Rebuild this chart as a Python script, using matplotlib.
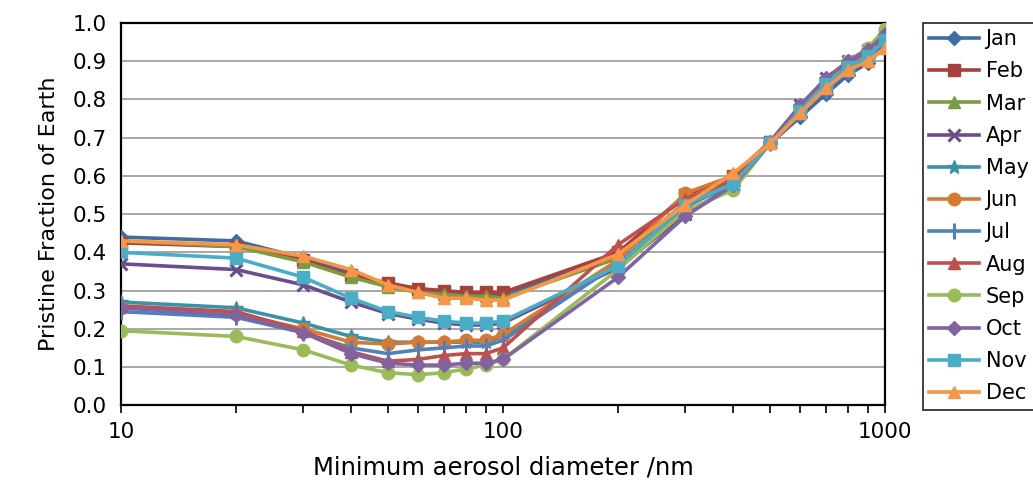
import matplotlib
matplotlib.use("Agg")
import matplotlib.pyplot as plt
from matplotlib.ticker import FixedLocator, NullFormatter

# ── data ─────────────────────────────────────────────
diameter = [10, 20, 30, 40, 50, 60, 70, 80, 90, 100,
            200, 300, 400, 500, 600, 700, 800, 900, 1000]

jan = [0.44, 0.43, 0.385, 0.345, 0.315, 0.30, 0.29, 0.29, 0.285, 0.29,
       0.39, 0.52, 0.585, 0.685, 0.755, 0.815, 0.865, 0.895, 0.94]
feb = [0.425, 0.415, 0.38, 0.34, 0.32, 0.305, 0.30, 0.295, 0.295, 0.295,
       0.40, 0.55, 0.60, 0.69, 0.77, 0.835, 0.88, 0.91, 0.95]
mar = [0.43, 0.415, 0.375, 0.335, 0.31, 0.295, 0.29, 0.285, 0.285, 0.28,
       0.385, 0.53, 0.59, 0.69, 0.775, 0.845, 0.895, 0.925, 0.96]
apr = [0.37, 0.355, 0.315, 0.27, 0.24, 0.225, 0.215, 0.21, 0.21, 0.215,
       0.36, 0.50, 0.575, 0.69, 0.785, 0.855, 0.90, 0.93, 0.965]
may = [0.27, 0.255, 0.215, 0.18, 0.165, 0.165, 0.165, 0.165, 0.165, 0.18,
       0.37, 0.52, 0.58, 0.685, 0.775, 0.845, 0.89, 0.92, 0.96]
jun = [0.255, 0.24, 0.20, 0.165, 0.16, 0.165, 0.165, 0.17, 0.17, 0.185,
       0.38, 0.555, 0.60, 0.69, 0.77, 0.835, 0.88, 0.91, 0.945]
jul = [0.245, 0.23, 0.19, 0.15, 0.135, 0.145, 0.15, 0.155, 0.155, 0.17,
       0.37, 0.52, 0.58, 0.685, 0.765, 0.825, 0.875, 0.905, 0.945]
aug = [0.26, 0.245, 0.195, 0.14, 0.115, 0.12, 0.13, 0.135, 0.135, 0.15,
       0.42, 0.54, 0.59, 0.69, 0.775, 0.845, 0.89, 0.92, 0.96]
sep = [0.195, 0.18, 0.145, 0.105, 0.085, 0.08, 0.085, 0.095, 0.105, 0.12,
       0.355, 0.51, 0.563, 0.685, 0.78, 0.85, 0.90, 0.935, 0.985]
oct_ = [0.255, 0.235, 0.19, 0.135, 0.11, 0.105, 0.105, 0.11, 0.11, 0.12,
        0.335, 0.495, 0.575, 0.685, 0.785, 0.855, 0.90, 0.93, 0.97]
nov = [0.40, 0.385, 0.335, 0.28, 0.245, 0.23, 0.22, 0.215, 0.215, 0.22,
       0.365, 0.525, 0.58, 0.685, 0.77, 0.84, 0.885, 0.915, 0.955]
dec = [0.43, 0.42, 0.39, 0.355, 0.315, 0.295, 0.28, 0.28, 0.275, 0.275,
       0.395, 0.525, 0.607, 0.685, 0.765, 0.83, 0.877, 0.90, 0.935]

months = ["Jan", "Feb", "Mar", "Apr", "May", "Jun",
          "Jul", "Aug", "Sep", "Oct", "Nov", "Dec"]
series = [jan, feb, mar, apr, may, jun, jul, aug, sep, oct_, nov, dec]

# ── styles ───────────────────────────────────────────
colors = ["#3D6DA6", "#A8413D", "#7B9B41", "#6A4D8C", "#3893A9", "#D67A31",
          "#4F81BD", "#C0504D", "#9BBB59", "#8064A2", "#4BACC6", "#F79646"]
markers = ["D", "s", "^", "x", "*", "o", "|", "^", "o", "D", "s", "^"]
msizes = [7, 8, 8, 8, 10, 9, 11, 8, 9, 7, 8, 9]

plt.rcParams["font.family"] = ["DejaVu Sans"]

fig = plt.figure(figsize=(10.33, 4.9), dpi=100)
ax = fig.add_axes([0.117, 0.173, 0.74, 0.780])

for name, vals, c, m, ms in zip(months, series, colors, markers, msizes):
    ax.plot(diameter, vals, color=c, marker=m, markersize=ms, linewidth=2.6,
            markeredgewidth=2.2 if m in ("x", "|") else 1, markeredgecolor=c,
            label=name, zorder=3)

ax.set_xscale("log")
ax.set_xlim(10, 1000)
ax.set_ylim(0, 1.0)
ax.set_yticks([i / 10 for i in range(11)])
ax.set_yticklabels([f"{i / 10:.1f}" for i in range(11)])
ax.set_xticks([10, 100, 1000])
ax.set_xticklabels(["10", "100", "1000"])
ax.xaxis.set_minor_locator(FixedLocator([d for d in diameter if d not in (10, 100, 1000)]))
ax.xaxis.set_minor_formatter(NullFormatter())

ax.yaxis.grid(True, color="#A0A0A0", linewidth=1.3)
ax.set_axisbelow(True)
ax.tick_params(axis="y", length=0, labelsize=15.5, pad=10)
ax.tick_params(axis="x", which="major", length=6, width=1.2, labelsize=15.5, pad=6)
ax.tick_params(axis="x", which="minor", length=6, width=1.2)
for sp in ax.spines.values():
    sp.set_linewidth(1.6)
    sp.set_color("black")

ax.set_xlabel("Minimum aerosol diameter /nm", fontsize=17.5, labelpad=10)
ax.set_ylabel("Pristine Fraction of Earth", fontsize=16, labelpad=10)

leg = ax.legend(loc="upper left", bbox_to_anchor=(923 / 1033, 1 - 23 / 490),
                bbox_transform=fig.transFigure, fontsize=15, frameon=True,
                fancybox=False, edgecolor="black", handlelength=2.4,
                labelspacing=0.585, borderpad=0.3, handletextpad=0.3,
                borderaxespad=0)
leg.get_frame().set_linewidth(1.3)

fig.savefig("out.png", dpi=100)
